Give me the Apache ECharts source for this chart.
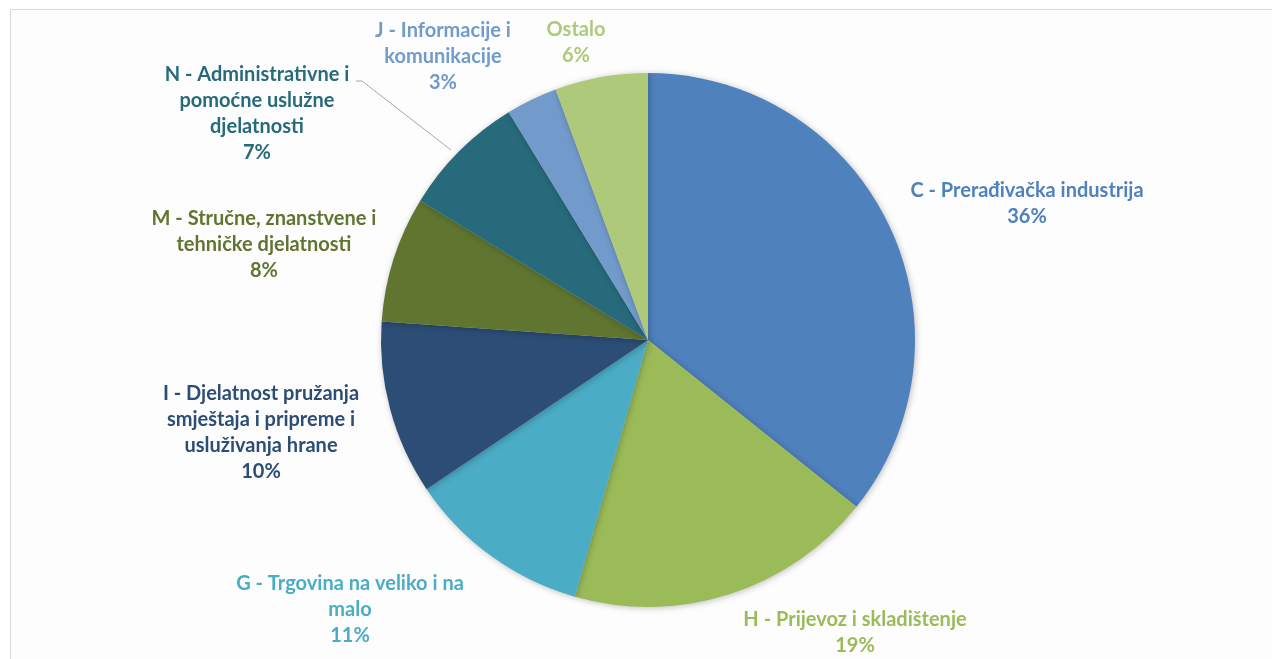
<!DOCTYPE html>
<html>
<head>
<meta charset="utf-8">
<script src="https://cdn.jsdelivr.net/npm/echarts@6/dist/echarts.min.js"></script>
<style>
html,body{margin:0;padding:0;background:#fff;}
#frame{position:absolute;left:10px;top:9px;width:1300px;height:700px;border:1px solid #d9d9d9;background:#fdfdfd;}
#chart{position:absolute;left:0;top:0;width:1272px;height:659px;}
</style>
</head>
<body>
<div id="frame"></div>
<div id="chart"></div>
<script>
// Data
var categories = [
  'C - Prerađivačka industrija',
  'H - Prijevoz i skladištenje',
  'G - Trgovina na veliko i na malo',
  'I - Djelatnost pružanja smještaja i pripreme i usluživanja hrane',
  'M - Stručne, znanstvene i tehničke djelatnosti',
  'N - Administrativne i pomoćne uslužne djelatnosti',
  'J - Informacije i komunikacije',
  'Ostalo'
];
var values = [35.6, 18.6, 11.1, 10.5, 7.6, 7.5, 3.1, 5.6];
var percentLabels = ['36%', '19%', '11%', '10%', '8%', '7%', '3%', '6%'];
var labelText = [
  'C - Prerađivačka industrija',
  'H - Prijevoz i skladištenje',
  'G - Trgovina na veliko i na\nmalo',
  'I - Djelatnost pružanja\nsmještaja i pripreme i\nusluživanja hrane',
  'M - Stručne, znanstvene i\ntehničke djelatnosti',
  'N - Administrativne i\npomoćne uslužne\ndjelatnosti',
  'J - Informacije i\nkomunikacije',
  'Ostalo'
];
var colors = ['#4F81BD', '#9BBB59', '#4BACC6', '#2C4D75', '#5F7530', '#276A7C', '#729ACA', '#AFC97A'];

// Label placement (layout only)
var labelPos = [
  [1027, 204], [855, 633], [350, 610], [261, 433],
  [264, 245], [257, 114], [443, 57], [576, 43]
];

var chart = echarts.init(document.getElementById('chart'), null, {renderer: 'canvas'});
var data = categories.map(function (c, i) {
  return {
    name: c,
    value: values[i],
    itemStyle: {color: colors[i]},
    label: {color: colors[i]},
    labelLine: {show: i === 5}
  };
});

chart.setOption({
  animation: false,
  series: [{
    type: 'pie',
    center: [648, 340],
    radius: 267,
    startAngle: 90,
    clockwise: true,
    data: data,
    itemStyle: {borderWidth: 0, shadowBlur: 6, shadowColor: 'rgba(0,0,0,0.25)', shadowOffsetX: 1, shadowOffsetY: 1},
    label: {
      show: true,
      position: 'outside',
      fontFamily: 'Lato',
      fontWeight: 'bold',
      fontSize: 20,
      lineHeight: 26,
      align: 'center',
      formatter: function (p) {
        return labelText[p.dataIndex] + '\n' + percentLabels[p.dataIndex];
      }
    },
    labelLine: {
      show: false,
      lineStyle: {color: '#a6a6a6', width: 1},
      length: 10,
      length2: 10
    },
    labelLayout: function (params) {
      var i = params.dataIndex;
      var out = {
        x: labelPos[i][0],
        y: labelPos[i][1],
        align: 'center',
        verticalAlign: 'middle'
      };
      if (i === 5) {
        out.labelLinePoints = [[451, 150], [362, 81], [356, 81]];
      }
      return out;
    }
  }]
});
</script>
</body>
</html>
